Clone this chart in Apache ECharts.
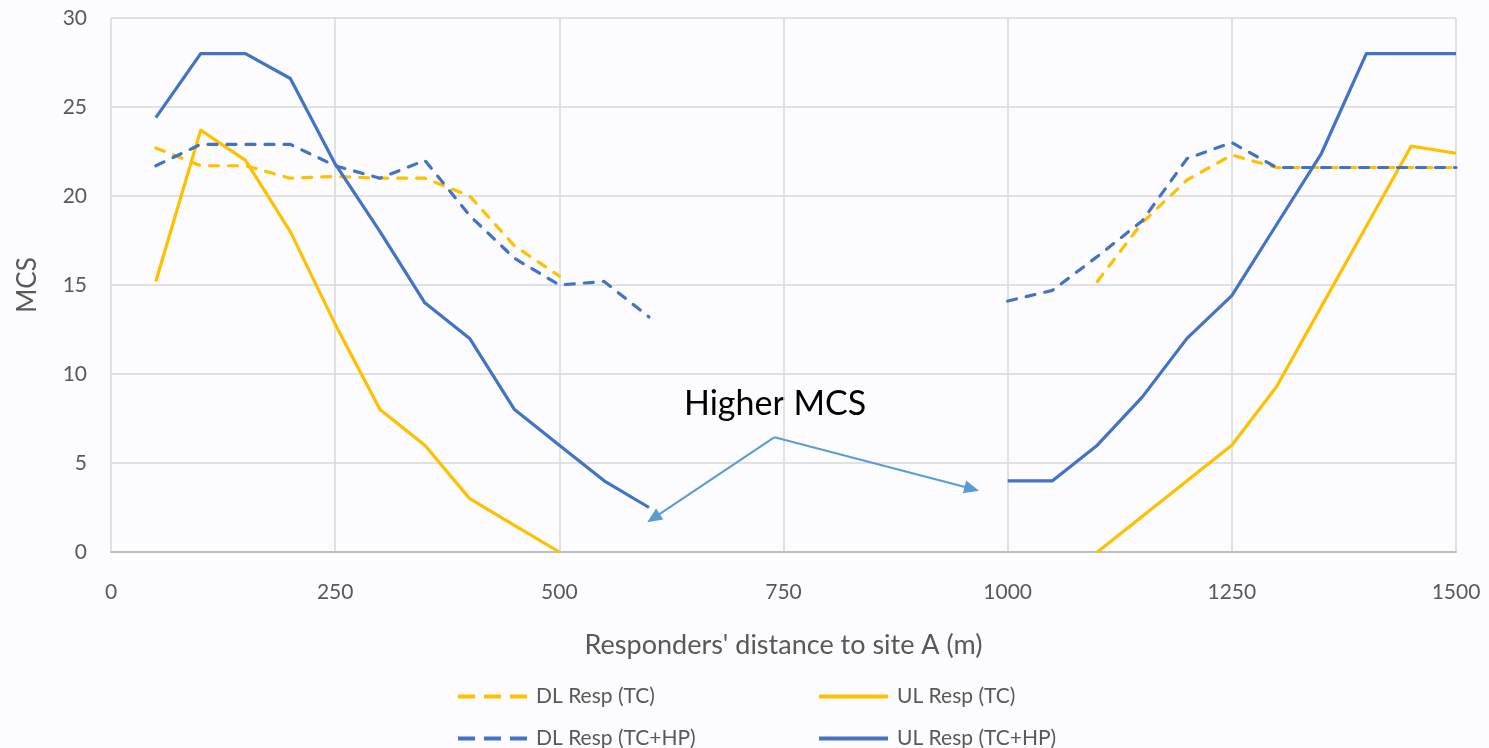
<!DOCTYPE html>
<html>
<head>
<meta charset="utf-8">
<script src="https://cdn.jsdelivr.net/npm/echarts@6/dist/echarts.min.js"></script>
<style>
html,body{margin:0;padding:0;background:#fcfcfe;}
#chart{width:1489px;height:748px;}
</style>
</head>
<body>
<div id="chart"></div>
<script>
const distances = [50,100,150,200,250,300,350,400,450,500,550,600,650,700,750,800,850,900,950,1000,1050,1100,1150,1200,1250,1300,1350,1400,1450,1500];
const dlTC   = [22.7,21.7,21.7,21.0,21.1,21.0,21.0,20.0,17.2,15.5,null,null,null,null,null,null,null,null,null,null,null,15.2,18.5,20.9,22.3,21.6,21.6,21.6,21.6,21.6];
const ulTC   = [15.2,23.7,22.0,18.0,12.8,8.0,6.0,3.0,1.5,0,null,null,null,null,null,null,null,null,null,null,null,0,2.0,4.0,6.0,9.3,13.8,18.3,22.8,22.4];
const dlTCHP = [21.7,22.9,22.9,22.9,21.7,21.0,22.0,18.9,16.5,15.0,15.2,13.2,null,null,null,null,null,null,null,14.1,14.7,16.6,18.6,22.1,23.0,21.6,21.6,21.6,21.6,21.6];
const ulTCHP = [24.4,28,28,26.6,21.8,18.0,14.0,12.0,8.0,6.0,4.0,2.5,null,null,null,null,null,null,null,4,4,6,8.7,12,14.4,18.4,22.4,28,28,28];
const seriesNames = ['DL Resp (TC)','UL Resp (TC)','DL Resp (TC+HP)','UL Resp (TC+HP)'];
const annotationText = 'Higher MCS';
const arrowApex = [740, 6.45];
const arrowTipLeft = [605, 1.9];
const arrowTipRight = [960, 3.55];

const FONT = 'Lato';
const TXT = '#595959';
const YEL = '#FFC000', BLU = '#4472C4';
const DASH_ICON = 'path://M0,0h17v4h-17z M26,0h17v4h-17z M52,0h17v4h-17z';
const SOLID_ICON = 'path://M0,0h69v4h-69z';

function pairs(arr){ return distances.map((d,i)=>[d, arr[i]]); }

function mkSeries(name, arr, color, dashed, extra){
  return Object.assign({
    name, type:'line', data: pairs(arr), showSymbol:false, symbol:'none',
    connectNulls:false,
    lineStyle:{color, width:3.2, type: dashed ? [9,10] : 'solid', cap: dashed ? 'round' : 'butt', join:'round'},
    itemStyle:{color},
    emphasis:{disabled:true}, animation:false
  }, extra||{});
}

function mkLegend(name, icon, left, top){
  return {
    data:[{name, icon}], left, top, padding:0,
    itemWidth:69, itemHeight:4, itemGap:10,
    textStyle:{fontFamily:FONT, fontSize:21, color:TXT, padding:[0,0,0,4]},
    selectedMode:false
  };
}

const chart = echarts.init(document.getElementById('chart'), null, {renderer:'canvas'});
chart.setOption({
  backgroundColor:'#fcfcfe',
  animation:false,
  grid:{left:111, right:33, top:18, bottom:196, containLabel:false, outerBoundsMode:'none'},
  xAxis:{
    type:'value', min:0, max:1500, interval:250,
    axisLine:{show:true, lineStyle:{color:'#bfbfbf', width:2}},
    axisTick:{show:false},
    splitLine:{show:true, lineStyle:{color:'#d9d9d9', width:1.5}},
    axisLabel:{color:TXT, fontFamily:FONT, fontSize:21, margin:30, formatter: v => String(v)},
    name:"Responders' distance to site A (m)", nameLocation:'middle', nameGap:80,
    nameTextStyle:{color:TXT, fontFamily:FONT, fontSize:27}
  },
  yAxis:{
    type:'value', min:0, max:30, interval:5,
    axisLine:{show:false}, axisTick:{show:false},
    splitLine:{show:true, lineStyle:{color:'#d9d9d9', width:1.5}},
    axisLabel:{color:TXT, fontFamily:FONT, fontSize:21, margin:24},
    name:'MCS', nameLocation:'middle', nameGap:70, nameRotate:90,
    nameTextStyle:{color:TXT, fontFamily:FONT, fontSize:26}
  },
  legend:[
    mkLegend(seriesNames[0], DASH_ICON, 458, 686),
    mkLegend(seriesNames[1], SOLID_ICON, 819, 686),
    mkLegend(seriesNames[2], DASH_ICON, 458, 728),
    mkLegend(seriesNames[3], SOLID_ICON, 819, 728)
  ],
  graphic:[{
    type:'text', left:684, top:387,
    style:{text:annotationText, fontFamily:FONT, fontSize:34, fill:'#000'}
  }],
  series:[
    mkSeries(seriesNames[0], dlTC, YEL, true),
    mkSeries(seriesNames[1], ulTC, YEL, false),
    mkSeries(seriesNames[2], dlTCHP, BLU, true),
    mkSeries(seriesNames[3], ulTCHP, BLU, false, {
      markLine:{
        silent:true, animation:false,
        symbol:['none','triangle'], symbolSize:[13,15],
        label:{show:false},
        lineStyle:{color:'#5B9BD5', width:2, type:'solid'},
        data:[
          [{coord:arrowApex},{coord:arrowTipLeft}],
          [{coord:arrowApex},{coord:arrowTipRight}]
        ]
      }
    })
  ]
});
</script>
</body>
</html>
